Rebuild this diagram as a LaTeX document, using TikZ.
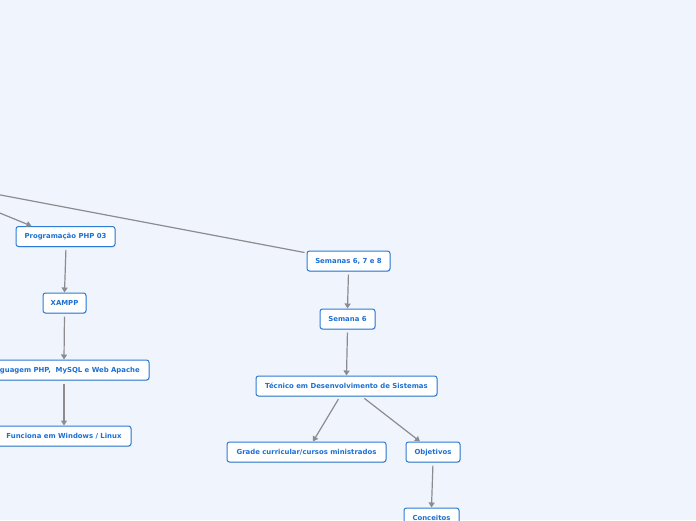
\documentclass[tikz,border=0pt]{standalone}
\usepackage{fontspec}
\setmainfont{DejaVu Sans}
\usetikzlibrary{arrows.meta,shadows}
\definecolor{bgc}{HTML}{F0F4FD}
\definecolor{bord}{HTML}{2B7BD6}
\definecolor{txt}{HTML}{1C70D4}
\definecolor{lin}{HTML}{8C8C90}
\tikzset{
  box/.style={draw=bord, line width=1pt, fill=white, rounded corners=2.5pt,
    minimum height=20pt, inner sep=0pt, text=txt, text height=5pt, text depth=0.3pt,
    font=\fontsize{6.9}{8}\selectfont\bfseries,
    drop shadow={shadow xshift=0.6pt, shadow yshift=-0.9pt, opacity=0.25, fill=gray}},
  conn/.style={draw=lin, line width=1.2pt, shorten <=3pt,
    -{Triangle[width=6pt,length=5pt]}},
  plain/.style={draw=lin, line width=1.2pt}
}
\begin{document}
\begin{tikzpicture}[x=1pt,y=-1pt]
\fill[bgc] (0,0) rectangle (696,520);
\useasboundingbox (0,0) rectangle (696,520);
\node[box, minimum width=99pt] (prog) at (65.5,236.5) {Programação PHP 03};
\node[box, minimum width=43pt] (xampp) at (64.5,303) {XAMPP};
\node[box, minimum width=170pt] (ling) at (64,370) {Linguagem PHP,\ \ MySQL e Web Apache};
\node[box, minimum width=134pt] (func) at (64,436) {Funciona em Windows / Linux};
\node[box, minimum width=83pt] (sem) at (348.5,261) {Semanas 6, 7 e 8};
\node[box, minimum width=55pt] (sem6) at (347.5,319) {Semana 6};
\node[box, minimum width=181pt] (tec) at (346.5,386) {Técnico em Desenvolvimento de Sistemas};
\node[box, minimum width=159pt] (grade) at (306.5,452) {Grade curricular/cursos ministrados};
\node[box, minimum width=54pt] (obj) at (433,452) {Objetivos};
\node[box, minimum width=55pt] (conc) at (431.5,518) {Conceitos};
\coordinate (in1) at (-10,193);
\coordinate (in2) at (-10,209);
\draw[plain] (in1) -- ([xshift=-2pt,yshift=-2pt]sem.north west);
\draw[conn, shorten <=0pt] (in2) -- ([xshift=16pt]prog.north west);
\draw[conn] ([xshift=0.5pt]prog.south) -- (xampp.north);
\draw[conn] (xampp.south) -- (ling.north);
\draw[conn] (ling.south) -- (func.north);
\draw[conn] (sem.south) -- (sem6.north);
\draw[conn] (sem6.south) -- (tec.north);
\draw[conn] ([xshift=-6.5pt]tec.south) -- ([xshift=6.5pt]grade.north);
\draw[conn] ([xshift=15.5pt]tec.south) -- ([xshift=-13pt]obj.north);
\draw[conn] (obj.south) -- (conc.north);
\end{tikzpicture}
\end{document}
